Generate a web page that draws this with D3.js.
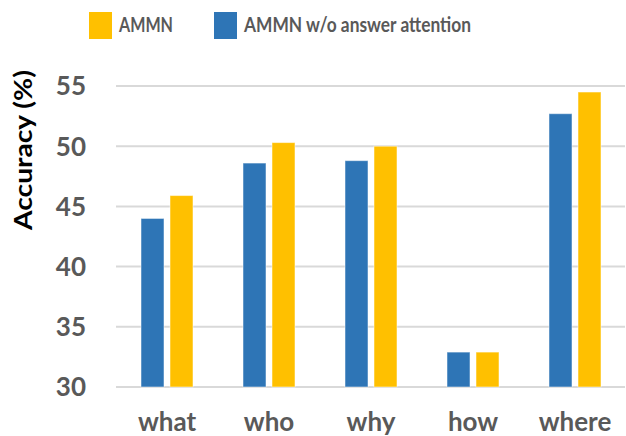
<!DOCTYPE html>
<html>
<head>
<meta charset="utf-8">
<script src="https://cdn.jsdelivr.net/npm/d3@7"></script>
<style>
  body { margin: 0; background: #fff; }
  text { font-family: Lato, "Open Sans", sans-serif; font-weight: bold; fill: #595959; }
</style>
</head>
<body>
<svg id="chart" width="626" height="436"></svg>
<script>
// question types
let categories = ['what', 'who', 'why', 'how', 'where'];
// series, left bar first
let seriesNames = ['AMMN w/o answer attention', 'AMMN'];
let withoutAttention = [44.0, 48.6, 48.8, 32.9, 52.7];
let ammn = [45.9, 50.3, 50.0, 32.9, 54.5];
let yTicks = [30, 35, 40, 45, 50, 55];

let colors = {'AMMN': '#FFC000', 'AMMN w/o answer attention': '#2E75B6'};

let svg = d3.select('#chart');
let [plotLeft, plotRight, plotTop, plotBottom] = [116, 626, 86, 387];

let x0 = d3.scaleBand().domain(categories).range([plotLeft, plotRight]);
let step = x0.step();
let x1 = d3.scaleBand().domain(seriesNames)
  .range([step/2 - 26, step/2 + 26])
  .paddingInner(0.207);
let y = d3.scaleLinear().domain([30, 55]).range([plotBottom, plotTop]);

// gridlines
svg.append('g')
  .selectAll('line')
  .data(yTicks)
  .join('line')
  .attr('x1', plotLeft)
  .attr('x2', plotRight - 1)
  .attr('y1', d=>y(d))
  .attr('y2', d=>y(d))
  .attr('stroke', '#D9D9D9')
  .attr('stroke-width', 2);

// y tick labels
svg.append('g')
  .selectAll('text')
  .data(yTicks)
  .join('text')
  .attr('x', 86)
  .attr('y', d=>y(d))
  .attr('dy', '0.36em')
  .attr('text-anchor', 'end')
  .style('font-size', '26px')
  .text(d=>d);

// bars
let rows = categories.map((c, i)=>({cat: c, values: [
  {name: seriesNames[0], value: withoutAttention[i]},
  {name: seriesNames[1], value: ammn[i]}
]}));

svg.append('g')
  .selectAll('g')
  .data(rows)
  .join('g')
  .attr('transform', d=>`translate(${x0(d.cat)},0)`)
  .selectAll('rect')
  .data(d=>d.values)
  .join('rect')
  .attr('x', d=>x1(d.name))
  .attr('width', x1.bandwidth())
  .attr('y', d=>y(d.value))
  .attr('height', d=>y(30) - y(d.value))
  .attr('fill', d=>colors[d.name])
  .attr('stroke', '#fff')
  .attr('stroke-opacity', 0.5)
  .attr('stroke-width', 1);

// x labels
svg.append('g')
  .selectAll('text')
  .data(categories)
  .join('text')
  .attr('x', d=>x0(d) + step/2)
  .attr('y', 431)
  .attr('text-anchor', 'middle')
  .style('font-size', '26px')
  .text(d=>d);

// y title
svg.append('text')
  .attr('transform', 'translate(32,150) rotate(-90)')
  .attr('text-anchor', 'middle')
  .attr('textLength', 160)
  .attr('lengthAdjust', 'spacingAndGlyphs')
  .style('font-size', '24px')
  .style('fill', '#000')
  .text('Accuracy (%)');

// legend
let legend = [
  {name: 'AMMN', x: 89, w: 54},
  {name: 'AMMN w/o answer attention', x: 214, w: 227}
];
let lg = svg.append('g')
  .selectAll('g')
  .data(legend)
  .join('g')
  .attr('transform', d=>`translate(${d.x},12)`);
lg.append('rect')
  .attr('width', 23)
  .attr('height', 27)
  .attr('fill', d=>colors[d.name]);
lg.append('text')
  .attr('x', 30)
  .attr('y', 20)
  .attr('textLength', d=>d.w)
  .attr('lengthAdjust', 'spacingAndGlyphs')
  .style('font-size', '21px')
  .text(d=>d.name);
</script>
</body>
</html>
